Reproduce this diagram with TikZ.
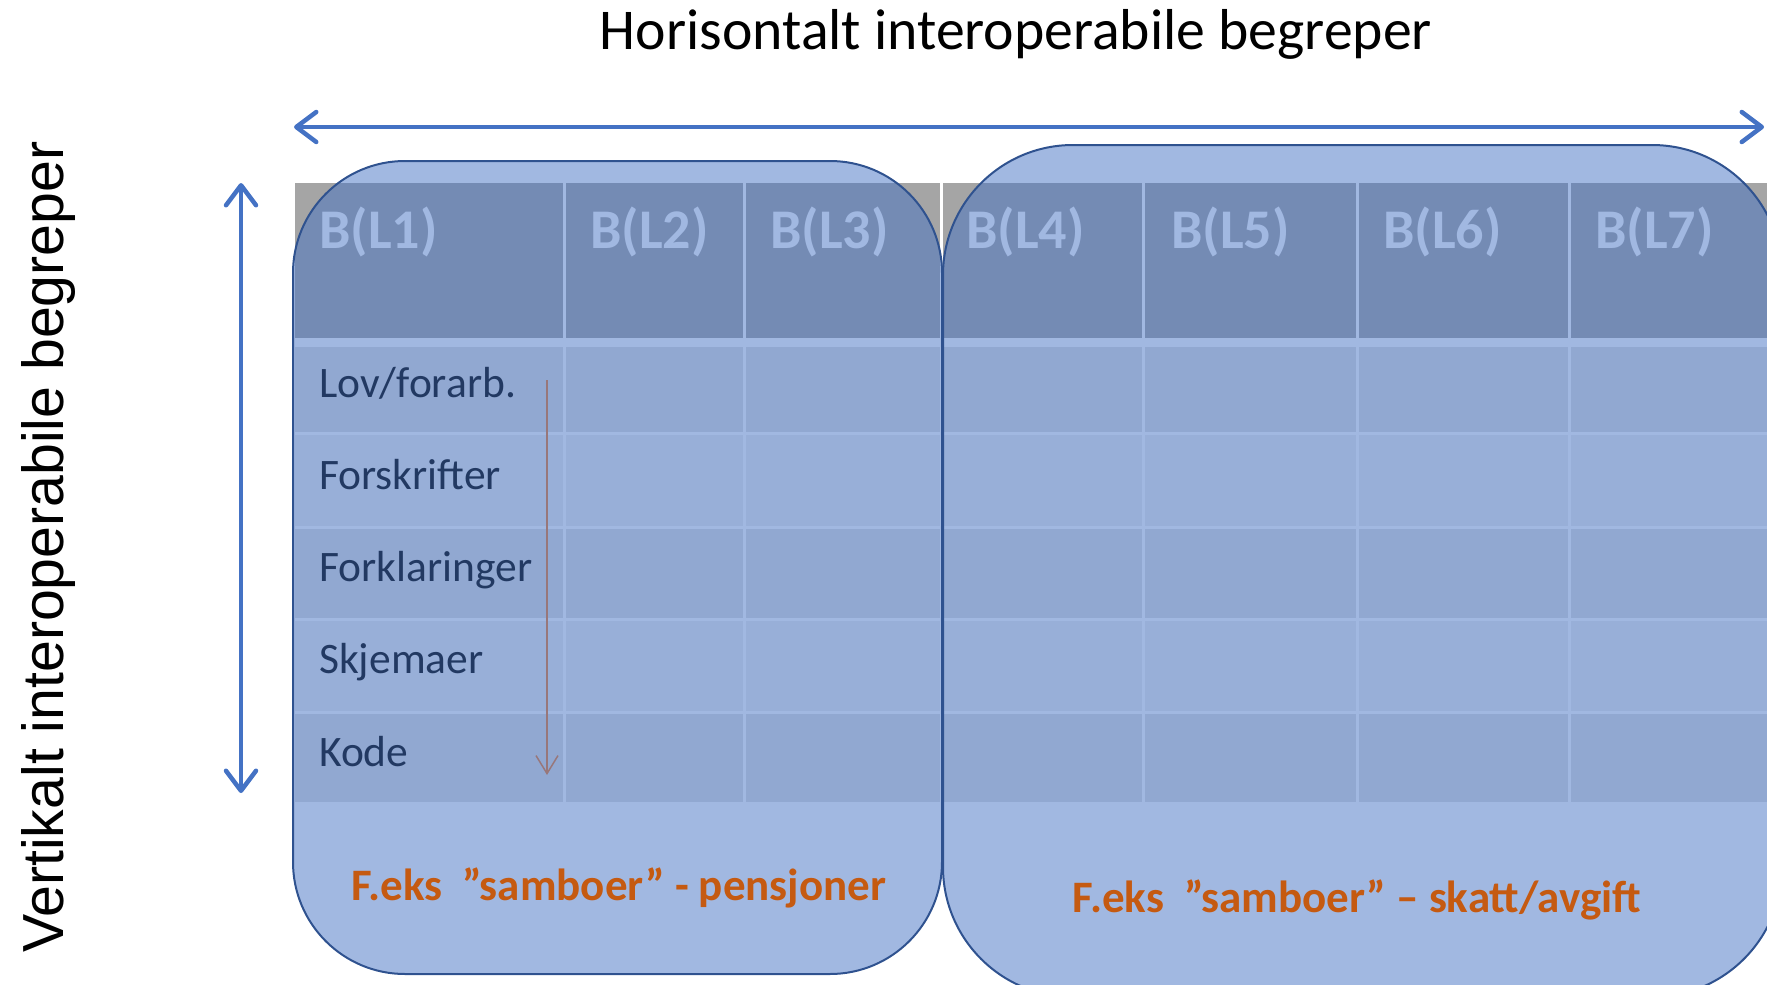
\documentclass[tikz,border=0pt]{standalone}
\usepackage{fontspec}
\setmainfont{Carlito}
\newfontfamily\vfont{Liberation Sans}
\usetikzlibrary{arrows.meta}
\definecolor{ovl}{HTML}{4472C4}
\definecolor{ovlline}{HTML}{2F528F}
\definecolor{hdr}{HTML}{A5A5A5}
\definecolor{rowA}{HTML}{DFDFDF}
\definecolor{rowB}{HTML}{EEEEEE}
\definecolor{orng}{HTML}{C55A11}
\definecolor{thinarrow}{HTML}{ED7D31}
\definecolor{bigarrow}{HTML}{4472C4}
\begin{document}
\begin{tikzpicture}[x=1pt,y=-1pt,
  hdrtext/.style={anchor=base west, text=white, inner sep=0pt, font=\fontsize{56}{60}\selectfont\bfseries},
  rowtext/.style={anchor=base west, text=black, inner sep=0pt, font=\fontsize{43.5}{46}\selectfont},
  orngtext/.style={anchor=base, text=orng, inner sep=0pt, font=\fontsize{45}{48}\selectfont\bfseries},
  lensbox/.style={fill=ovl, fill opacity=0.5, draw=ovlline, draw opacity=1, line width=2pt, inner sep=0pt},
  bigarr/.style={draw=bigarrow, line width=4.5pt, line cap=round,
     {Straight Barb[length=20pt,width=30pt,round]}-{Straight Barb[length=20pt,width=30pt,round]}},
  thinarr/.style={draw=thinarrow, line width=1.5pt, -{Straight Barb[length=18pt,width=22pt]}},
  gridline/.style={draw=white, line width=3pt}
]
\useasboundingbox (0,0) rectangle (1767,985);
\clip (0,0) rectangle (1767,985);

% table underlay
\fill[hdr] (295,183) rectangle (1800,338);
\fill[white] (295,338) rectangle (1800,347);
\fill[rowA] (295,347) rectangle (1800,433);
\fill[rowB] (295,433) rectangle (1800,527);
\fill[rowA] (295,527) rectangle (1800,619);
\fill[rowB] (295,619) rectangle (1800,712);
\fill[rowA] (295,712) rectangle (1800,802);
\foreach \y in {433,527,619,712} \draw[gridline] (295,\y) -- (1800,\y);
\foreach \x in {564,744,941,1143,1357,1569} \draw[gridline] (\x,183) -- (\x,802);

% header texts
\node (b1) [hdrtext] at (319,248) {B(L1)};
\node (b2) [hdrtext] at (590,248) {B(L2)};
\node (b3) [hdrtext] at (770,248) {B(L3)};
\node (b4) [hdrtext] at (966,248) {B(L4)};
\node (b5) [hdrtext] at (1171,248) {B(L5)};
\node (b6) [hdrtext] at (1383,248) {B(L6)};
\node (b7) [hdrtext] at (1595,248) {B(L7)};

% row labels
\node (r1) [rowtext] at (319,397) {Lov/forarb.};
\node (r2) [rowtext] at (319,489) {Forskrifter};
\node (r3) [rowtext] at (319,581) {Forklaringer};
\node (r4) [rowtext] at (319,673) {Skjemaer};
\node (r5) [rowtext] at (319,766) {Kode};

% thin arrow
\coordinate (tA) at (547,380);
\coordinate (tB) at (547,775);
\draw[thinarr] (tA) -- (tB);

% translucent boxes
\node (lens1) [lensbox, rounded corners=112pt, minimum width=649pt, minimum height=813pt] at (617.5,567.5) {};
\node (lens2) [lensbox, rounded corners=130pt, minimum width=839pt, minimum height=852pt] at (1362.5,571) {};

% orange texts
\node (o1) [orngtext] at (619,900) {F.eks~~”samboer” - pensjoner};
\node (o2) [orngtext] at (1357,912) {F.eks~~”samboer” – skatt/avgift};

% big arrows
\coordinate (hL) at (294,127);
\coordinate (hR) at (1764,127);
\draw[bigarr] (hL) -- (hR);
\coordinate (vT) at (241,183);
\coordinate (vB) at (241,793);
\draw[bigarr] (vT) -- (vB);

% titles
\node (title) [anchor=base, inner sep=0pt] at (1016,49) {\resizebox{832pt}{!}{\fontsize{58}{60}\selectfont Horisontalt interoperabile begreper}};
\node (vtitle) [rotate=90, anchor=base, inner sep=0pt] at (63,547) {\resizebox{811pt}{42pt}{\vfont Vertikalt interoperabile begreper}};
\end{tikzpicture}
\end{document}
